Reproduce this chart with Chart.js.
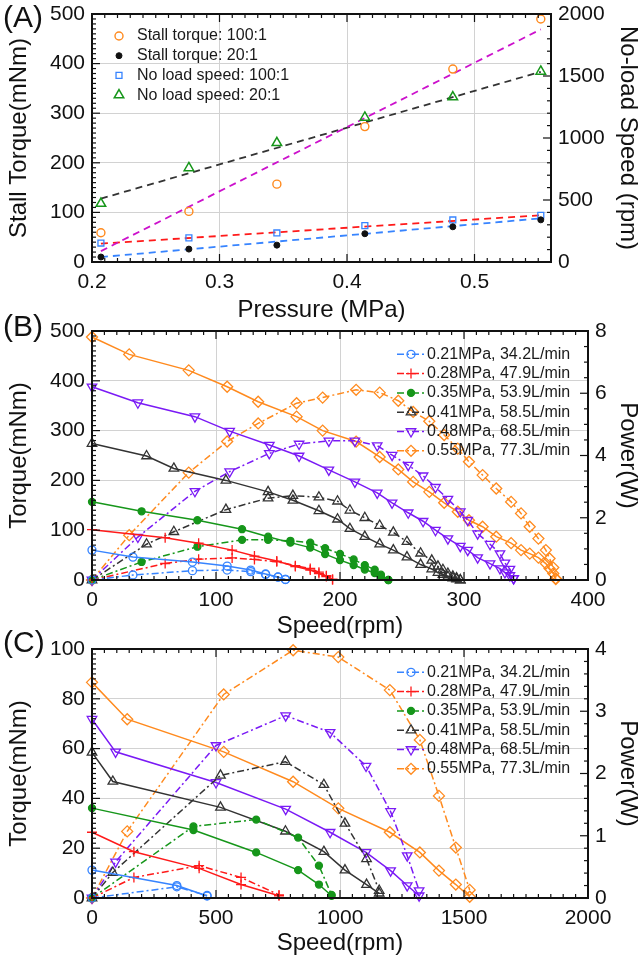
<!DOCTYPE html>
<html lang="en">
<head>
<meta charset="UTF-8">
<title>Stall torque, no-load speed and torque/power curves</title>
<script src="https://cdn.jsdelivr.net/npm/chart.js"></script>
<style>
  body { margin: 0; background: #fff; }
  canvas { position: absolute; left: 0; }
  .tag { position: absolute; left: 3px; font-family: "Liberation Sans", Arial, sans-serif; font-size: 30px; line-height: 1; color: #111; }
</style>
</head>
<body>
<canvas id="chartA" width="644" height="331" style="top:-6px"></canvas>
<canvas id="chartB" width="644" height="330" style="top:311px"></canvas>
<canvas id="chartC" width="644" height="331" style="top:629px"></canvas>
<canvas id="boxA" width="644" height="331" style="top:-6px"></canvas>
<canvas id="boxB" width="644" height="330" style="top:311px"></canvas>
<canvas id="boxC" width="644" height="331" style="top:629px"></canvas>
<div class="tag" style="top:2px">(A)</div>
<div class="tag" style="top:311px">(B)</div>
<div class="tag" style="top:627px">(C)</div>
<script>
// ---- (A) stall torque / no-load speed vs pressure ----
const pressure = [0.207, 0.276, 0.345, 0.414, 0.483, 0.552];
const stallTorque100 = [59, 102, 157, 273, 389, 490];
const stallTorque20 = [10, 26, 34, 57, 71, 85];
const noLoadSpeed100 = [153, 194, 234, 293, 339, 377];
const noLoadSpeed20 = [471, 759, 961, 1166, 1330, 1537];
// dashed fit lines, value at each end of the pressure range
const fitPressure = [0.207, 0.552];
const fitStall100 = [22, 469];
const fitStall20 = [10, 88];
const fitSpeed100 = [148, 377];
const fitSpeed20 = [511, 1534];
const labelsA = ['Stall torque: 100:1', 'Stall torque: 20:1', 'No load speed: 100:1', 'No load speed: 20:1'];
const ticksPressure = [0.2, 0.3, 0.4, 0.5];
const ticksTorqueA = [0, 100, 200, 300, 400, 500];
const ticksSpeedA = [0, 500, 1000, 1500, 2000];

// ---- legend text for (B) and (C) ----
const runLabels = ['0.21MPa, 34.2L/min', '0.28MPa, 47.9L/min', '0.35MPa, 53.9L/min',
                   '0.41MPa, 58.5L/min', '0.48MPa, 68.5L/min', '0.55MPa, 77.3L/min'];

// ---- (B) 100:1 gearbox ----
const b21Speed = [0, 33, 81, 109, 128, 140, 150, 156];
const b21Torque = [60, 46, 36, 28, 20, 12, 6, 1];
const b21Power = [0, 0.16, 0.30, 0.32, 0.27, 0.18, 0.09, 0.02];
const b28Speed = [0, 59, 86, 113, 131, 149, 164, 176, 183, 189, 194];
const b28Torque = [101, 85, 74, 60, 48, 38, 27, 20, 13, 7, 1];
const b28Power = [0, 0.53, 0.67, 0.71, 0.66, 0.59, 0.46, 0.37, 0.25, 0.14, 0.02];
const b35Speed = [0, 40, 85, 121, 142, 160, 176, 188, 200, 211, 220, 228, 233, 239];
const b35Torque = [157, 138, 120, 102, 87, 75, 65, 52, 40, 30, 21, 14, 7, 0];
const b35Power = [0, 0.58, 1.07, 1.29, 1.29, 1.26, 1.20, 1.02, 0.84, 0.66, 0.48, 0.33, 0.17, 0];
const b41Speed = [0, 44, 66, 108, 142, 162, 183, 198, 208, 220, 232, 243, 254, 265, 274, 279, 283, 287, 291, 294, 297];
const b41Torque = [274, 249, 224, 200, 177, 160, 139, 122, 103, 87, 72, 60, 46, 31, 22, 15, 11, 7, 4, 2, 0];
const b41Power = [0, 1.15, 1.55, 2.26, 2.63, 2.71, 2.66, 2.53, 2.24, 2.00, 1.75, 1.53, 1.23, 0.86, 0.63, 0.44, 0.33, 0.21, 0.12, 0.06, 0];
const b48Speed = [0, 37, 83, 111, 143, 167, 191, 212, 230, 242, 255, 267, 277, 287, 297, 303, 311, 321, 329, 333, 337, 340];
const b48Torque = [388, 356, 328, 299, 271, 249, 221, 197, 175, 155, 135, 118, 100, 83, 68, 60, 45, 33, 23, 15, 9, 3];
const b48Power = [0, 1.38, 2.85, 3.48, 4.07, 4.37, 4.47, 4.47, 4.32, 4.01, 3.69, 3.35, 2.98, 2.60, 2.20, 1.92, 1.49, 1.15, 0.85, 0.55, 0.35, 0.05];
const b55Speed = [0, 30, 78, 109, 134, 165, 186, 213, 232, 247, 259, 272, 284, 295, 304, 315, 326, 338, 346, 353, 360, 366, 369, 372, 374];
const b55Torque = [488, 453, 421, 388, 358, 328, 300, 278, 247, 222, 197, 177, 155, 137, 120, 107, 87, 74, 60, 53, 45, 33, 23, 13, 2];
const b55Power = [0, 1.44, 3.45, 4.45, 5.03, 5.68, 5.86, 6.11, 6.02, 5.76, 5.40, 5.10, 4.66, 4.22, 3.80, 3.37, 2.94, 2.51, 2.14, 1.71, 1.33, 0.96, 0.69, 0.40, 0.05];
const ticksSpeedB = [0, 100, 200, 300, 400];
const ticksTorqueB = [0, 100, 200, 300, 400, 500];
const ticksPowerB = [0, 2, 4, 6, 8];

// ---- (C) 20:1 gearbox ----
const c21Speed = [0, 342, 464];
const c21Torque = [11.2, 5.0, 0.8];
const c21Power = [0, 0.18, 0.04];
const c28Speed = [0, 169, 432, 601, 754];
const c28Torque = [26.4, 18.6, 11.9, 5.4, 0.9];
const c28Power = [0, 0.33, 0.52, 0.33, 0.05];
const c35Speed = [0, 409, 662, 831, 915, 966];
const c35Torque = [36.1, 27.3, 18.3, 11.2, 5.4, 0.9];
const c35Power = [0, 1.15, 1.26, 0.97, 0.52, 0.05];
const c41Speed = [0, 84, 518, 780, 935, 1020, 1107, 1158];
const c41Torque = [58.5, 46.8, 36.4, 26.8, 18.6, 11.2, 5.4, 1.9];
const c41Power = [0, 0.41, 1.97, 2.19, 1.82, 1.20, 0.63, 0.12];
const c48Speed = [0, 95, 500, 781, 960, 1105, 1204, 1271, 1319];
const c48Torque = [71.8, 58.7, 46.4, 35.7, 26.4, 18.3, 11.0, 5.0, 0.9];
const c48Power = [0, 0.58, 2.45, 2.93, 2.66, 2.12, 1.39, 0.68, 0.12];
const c55Speed = [0, 142, 531, 811, 993, 1201, 1322, 1399, 1467, 1523];
const c55Torque = [86.6, 71.8, 58.7, 46.7, 36.0, 26.4, 18.3, 11.0, 5.4, 0.5];
const c55Power = [0, 1.07, 3.27, 3.98, 3.87, 3.34, 2.54, 1.64, 0.81, 0.13];
const ticksSpeedC = [0, 500, 1000, 1500, 2000];
const ticksTorqueC = [0, 20, 40, 60, 80, 100];
const ticksPowerC = [0, 1, 2, 3, 4];

const FONT = '"Liberation Sans", Arial, sans-serif';
Chart.defaults.font.family = FONT;
Chart.defaults.color = '#111';

const xy = (xs, ys) => xs.map((x, i) => ({x: x, y: ys[i]}));

// marker look of each pressure run
const runStyle = [
  {color: '#3784ff', shape: 'circle', r: 4, fill: 'rgba(0,0,0,0)'},
  {color: '#ff1a1a', shape: 'cross', r: 5, fill: 'rgba(0,0,0,0)'},
  {color: '#16961a', shape: 'circle', r: 3.5, fill: '#16961a'},
  {color: '#333333', shape: 'triangle', r: 5.5, fill: 'rgba(0,0,0,0)'},
  {color: '#7a1af5', shape: 'triangle', r: 5.5, fill: 'rgba(0,0,0,0)', rot: 180},
  {color: '#ff8a1e', shape: 'rectRot', r: 5.5, fill: 'rgba(0,0,0,0)'}
];

function runSets(speeds, torques, powers) {
  const out = [];
  speeds.forEach((sp, k) => {
    const s = runStyle[k];
    const base = {
      borderColor: s.color, borderWidth: 1.5, pointStyle: s.shape, pointRadius: s.r,
      pointRotation: s.rot || 0, pointBorderColor: s.color, pointBackgroundColor: s.fill,
      pointBorderWidth: 1.3, clip: false, tension: 0
    };
    out.push(Object.assign({}, base, {data: xy(sp, torques[k]), yAxisID: 'y'}));
    out.push(Object.assign({}, base, {label: runLabels[k], data: xy(sp, powers[k]), yAxisID: 'y1',
      borderDash: [7, 3, 2, 3]}));
  });
  return out;
}

function xAxis(min, max, ticks, title, h, pad) {
  return {
    type: 'linear', position: 'bottom', min: min, max: max,
    afterBuildTicks: s => { s.ticks = ticks.map(v => ({value: v})); },
    afterFit: s => { s.height = h; },
    grid: {color: '#d2d2d2', lineWidth: 1, drawTicks: false},
    border: {display: false},
    ticks: {font: {size: 21}, padding: 8, autoSkip: false, maxRotation: 0, callback: v => String(v)},
    title: {display: true, text: title, font: {size: 24}, padding: {top: 0, bottom: pad}}
  };
}

function yAxis(pos, min, max, ticks, title, w, pad, grid) {
  return {
    type: 'linear', position: pos, min: min, max: max,
    afterBuildTicks: s => { s.ticks = ticks.map(v => ({value: v})); },
    afterFit: s => { s.width = w; },
    grid: grid ? {color: '#d2d2d2', lineWidth: 1, drawTicks: false} : {display: false, drawTicks: false},
    border: {display: false},
    ticks: {font: {size: 21}, padding: 7, autoSkip: false, callback: v => String(v)},
    title: {display: true, text: title, font: {size: 24}, padding: {top: pad, bottom: 0}}
  };
}

// black frame with inward major/minor ticks, drawn on a canvas laid over the chart
function drawFrame(chart, canvasId, minor) {
  const cv = document.getElementById(canvasId);
  const ctx = cv.getContext('2d');
  ctx.clearRect(0, 0, cv.width, cv.height);
  try {
    const sx = chart.scales.x, sy = chart.scales.y, sy1 = chart.scales.y1;
    const L = sx.left, R = sx.right, T = sy.top, B = sy.bottom;
    ctx.strokeStyle = '#111';
    ctx.lineWidth = 1.2;
    [['x', sx], ['y', sy], ['y1', sy1]].forEach(([id, sc]) => {
      const step = minor[id];
      const n = Math.round((sc.max - sc.min) / step);
      for (let i = 0; i <= n; i++) {
        const v = sc.min + i * step;
        const major = sc.ticks.some(t => Math.abs(t.value - v) < step * 0.01);
        const len = major ? 8 : 4;
        const q = sc.getPixelForValue(v);
        ctx.beginPath();
        if (id === 'x') {
          ctx.moveTo(q, B); ctx.lineTo(q, B - len);
          ctx.moveTo(q, T); ctx.lineTo(q, T + len);
        } else if (id === 'y') {
          ctx.moveTo(L, q); ctx.lineTo(L + len, q);
        } else {
          ctx.moveTo(R, q); ctx.lineTo(R - len, q);
        }
        ctx.stroke();
      }
    });
    ctx.lineWidth = 2;
    ctx.strokeRect(L, T, R - L, B - T);
  } catch (e) {
    ctx.fillStyle = 'red';
    ctx.font = '12px monospace';
    ctx.fillText(String(e), 100, 100);
  }
}

function marker(ctx, ds, x, y) {
  ctx.save();
  ctx.setLineDash([]);
  ctx.strokeStyle = ds.pointBorderColor;
  ctx.fillStyle = ds.pointBackgroundColor;
  ctx.lineWidth = ds.pointBorderWidth;
  Chart.helpers.drawPoint(ctx, {pointStyle: ds.pointStyle, rotation: ds.pointRotation || 0,
    radius: ds.pointRadius, borderWidth: ds.pointBorderWidth}, x, y);
  ctx.restore();
}

// legend drawn inside the plot box
function boxLegend(leg) {
  return {
    id: 'boxLegend',
    afterDraw(chart) {
      const ctx = chart.ctx;
      ctx.save();
      ctx.font = '16px ' + FONT;
      ctx.textBaseline = 'middle';
      leg.items.forEach((idx, i) => {
        const ds = chart.data.datasets[idx];
        const y = leg.y + i * leg.dy;
        if (leg.line) {
          ctx.strokeStyle = ds.borderColor;
          ctx.lineWidth = ds.borderWidth;
          ctx.setLineDash(ds.borderDash || []);
          ctx.beginPath();
          ctx.moveTo(leg.line[0], y); ctx.lineTo(leg.line[1], y);
          ctx.stroke();
          ctx.setLineDash([]);
        }
        marker(ctx, ds, leg.mx, y);
        ctx.fillStyle = '#1a1a1a';
        ctx.fillText(ds.label, leg.tx, y);
      });
      ctx.restore();
    }
  };
}

const common = {responsive: false, animation: false, devicePixelRatio: 1, events: []};

// ---------- chart A ----------
const scatterA = (label, data, yAxisID, shape, r, color, fill, bw) => ({
  label: label, data: data, yAxisID: yAxisID, showLine: false, clip: false,
  pointStyle: shape, pointRadius: r, pointBorderColor: color, pointBackgroundColor: fill,
  pointBorderWidth: bw, borderColor: color
});
const fitA = (data, yAxisID, color) => ({
  data: data, yAxisID: yAxisID, borderColor: color, borderWidth: 1.8, borderDash: [7, 5],
  pointRadius: 0, clip: false
});

const chartA = new Chart(document.getElementById('chartA'), {
  type: 'line',
  data: {
    datasets: [
      scatterA(labelsA[0], xy(pressure, stallTorque100), 'y', 'circle', 4, '#ff8a1e', 'rgba(0,0,0,0)', 1.4),
      scatterA(labelsA[1], xy(pressure, stallTorque20), 'y', 'circle', 3, '#111111', '#111111', 1),
      scatterA(labelsA[2], xy(pressure, noLoadSpeed100), 'y1', 'rect', 4.2, '#3784ff', 'rgba(0,0,0,0)', 1.3),
      scatterA(labelsA[3], xy(pressure, noLoadSpeed20), 'y1', 'triangle', 5.5, '#16961a', 'rgba(0,0,0,0)', 1.5),
      fitA(xy(fitPressure, fitStall100), 'y', '#cc11cc'),
      fitA(xy(fitPressure, fitSpeed20), 'y1', '#333333'),
      fitA(xy(fitPressure, fitSpeed100), 'y1', '#ff1a1a'),
      fitA(xy(fitPressure, fitStall20), 'y', '#3784ff')
    ]
  },
  options: Object.assign({}, common, {
    layout: {padding: {top: 20, left: 0, right: 0, bottom: 0}},
    plugins: {legend: {display: false}, tooltip: {enabled: false}},
    scales: {
      x: xAxis(0.2, 0.56, ticksPressure, 'Pressure (MPa)', 63, 0),
      y: yAxis('left', 0, 500, ticksTorqueA, 'Stall Torque(mNm)', 92, 5, true),
      y1: yAxis('right', 0, 2000, ticksSpeedA, 'No-load Speed (rpm)', 93, 2, false)
    }
  }),
  plugins: [boxLegend({items: [0, 1, 2, 3], mx: 119, tx: 137, y: 42, dy: 19.7})]
});

// ---------- chart B ----------
const chartB = new Chart(document.getElementById('chartB'), {
  type: 'line',
  data: {
    datasets: runSets(
      [b21Speed, b28Speed, b35Speed, b41Speed, b48Speed, b55Speed],
      [b21Torque, b28Torque, b35Torque, b41Torque, b48Torque, b55Torque],
      [b21Power, b28Power, b35Power, b41Power, b48Power, b55Power])
  },
  options: Object.assign({}, common, {
    layout: {padding: {top: 20, left: 0, right: 0, bottom: 0}},
    plugins: {legend: {display: false}, tooltip: {enabled: false}},
    scales: {
      x: xAxis(0, 400, ticksSpeedB, 'Speed(rpm)', 61, 0),
      y: yAxis('left', 0, 500, ticksTorqueB, 'Torque(mNm)', 92, 5, true),
      y1: yAxis('right', 0, 8, ticksPowerB, 'Power(W)', 56, 2, false)
    }
  }),
  plugins: [boxLegend({items: [1, 3, 5, 7, 9, 11], line: [397, 425], mx: 411, tx: 427, y: 43.3, dy: 19.3})]
});

// ---------- chart C ----------
const chartC = new Chart(document.getElementById('chartC'), {
  type: 'line',
  data: {
    datasets: runSets(
      [c21Speed, c28Speed, c35Speed, c41Speed, c48Speed, c55Speed],
      [c21Torque, c28Torque, c35Torque, c41Torque, c48Torque, c55Torque],
      [c21Power, c28Power, c35Power, c41Power, c48Power, c55Power])
  },
  options: Object.assign({}, common, {
    layout: {padding: {top: 20, left: 0, right: 0, bottom: 0}},
    plugins: {legend: {display: false}, tooltip: {enabled: false}},
    scales: {
      x: xAxis(0, 2000, ticksSpeedC, 'Speed(rpm)', 62, 2),
      y: yAxis('left', 0, 100, ticksTorqueC, 'Torque(mNm)', 92, 5, true),
      y1: yAxis('right', 0, 4, ticksPowerC, 'Power(W)', 56, 2, false)
    }
  }),
  plugins: [boxLegend({items: [1, 3, 5, 7, 9, 11], line: [397, 425], mx: 411, tx: 427, y: 43.3, dy: 19.3})]
});

function frames() {
  drawFrame(chartA, 'boxA', {x: 0.01, y: 10, y1: 100});
  drawFrame(chartB, 'boxB', {x: 10, y: 10, y1: 0.5});
  drawFrame(chartC, 'boxC', {x: 50, y: 2, y1: 0.2});
}
frames();
setTimeout(frames, 0);
</script>
</body>
</html>
